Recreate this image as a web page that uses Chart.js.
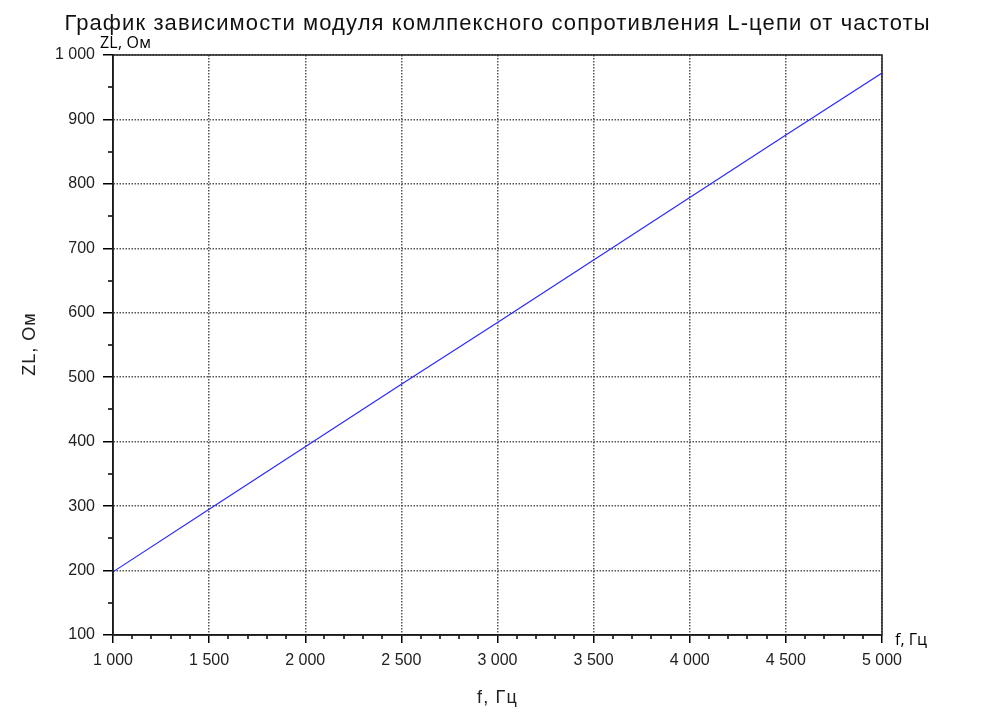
<!DOCTYPE html>
<html>
<head>
<meta charset="utf-8">
<script src="https://cdn.jsdelivr.net/npm/chart.js@4.4.1/dist/chart.umd.min.js"></script>
<style>
html,body{margin:0;padding:0;background:#fff;}
#wrap{width:981px;height:715px;position:relative;}
</style>
</head>
<body>
<div id="wrap"><canvas id="c" width="981" height="715"></canvas></div>
<script>
// ---- data ----
const titleText = 'График зависимости модуля комлпексного сопротивления L-цепи от частоты';
const xAxisTitle = 'f, Гц';
const yAxisTitle = 'ZL, Ом';
const freqs = [1000, 1500, 2000, 2500, 3000, 3500, 4000, 4500, 5000];
const zl    = [198, 295, 392, 489, 585, 682, 779, 876, 972];
const xRange = [1000, 5000];
const xStep = 500;
const xMinorStep = 100;
const yRange = [100, 1000];
const yStep = 100;
const yMinorStep = 50;

function fmt(v){
  const s = String(Math.round(v));
  return s.replace(/\B(?=(\d{3})+(?!\d))/g, ' ');
}

const AREA = {left:113, top:55, right:882, bottom:635};
const ARIAL = '"Liberation Sans", Arial, sans-serif';

const extras = {
  id: 'extras',
  afterDraw(chart){
    const ctx = chart.ctx;
    const ca = chart.chartArea;
    const xs = chart.scales.x, ys = chart.scales.y;
    ctx.save();
    // minor ticks
    ctx.strokeStyle = '#000';
    ctx.lineWidth = 1.5;
    ctx.beginPath();
    for (let v = xRange[0]; v <= xRange[1]; v += xMinorStep){
      if (v % xStep === 0) continue;
      const px = Math.round(xs.getPixelForValue(v));
      ctx.moveTo(px, ca.bottom);
      ctx.lineTo(px, ca.bottom + 4);
    }
    for (let v = yRange[0]; v <= yRange[1]; v += yMinorStep){
      if (v % yStep === 0) continue;
      const py = Math.round(ys.getPixelForValue(v));
      ctx.moveTo(ca.left, py);
      ctx.lineTo(ca.left - 5, py);
    }
    ctx.stroke();
    // frame
    ctx.lineWidth = 1.5;
    ctx.strokeStyle = '#222';
    ctx.strokeRect(ca.left, ca.top, ca.right - ca.left, ca.bottom - ca.top);
    // title
    ctx.fillStyle = '#111';
    ctx.textBaseline = 'alphabetic';
    ctx.font = '22px ' + ARIAL;
    ctx.letterSpacing = '1.1px';
    ctx.textAlign = 'center';
    ctx.fillText(titleText, (ca.left + ca.right) / 2, 30);
    // bottom axis title
    ctx.font = '18px ' + ARIAL;
    ctx.letterSpacing = '1.2px';
    ctx.fillStyle = '#222';
    ctx.fillText(xAxisTitle, (ca.left + ca.right) / 2, 703);
    // left axis title (rotated)
    ctx.save();
    ctx.translate(35, (ca.top + ca.bottom) / 2 - 1);
    ctx.rotate(-Math.PI / 2);
    ctx.letterSpacing = '1px';
    ctx.fillText(yAxisTitle, 0, 0);
    ctx.restore();
    // axis end labels
    ctx.font = '16px "Open Sans", sans-serif';
    ctx.textAlign = 'left';
    ctx.fillStyle = '#000';
    ctx.letterSpacing = '0.2px';
    ctx.fillText(yAxisTitle, ca.left - 13, 47.5);
    ctx.letterSpacing = '0px';
    ctx.fillText(xAxisTitle, ca.right + 13, 645);
    ctx.restore();
  }
};

new Chart(document.getElementById('c'), {
  type: 'line',
  data: {
    datasets: [{
      data: freqs.map((f, i) => ({x: f, y: zl[i]})),
      borderColor: '#2a2aff',
      borderWidth: 1.2,
      pointRadius: 0,
      fill: false,
      tension: 0
    }]
  },
  options: {
    responsive: false,
    animation: false,
    events: [],
    layout: {padding: {top: AREA.top, right: 981 - AREA.right, left: 0, bottom: 0}},
    plugins: {legend: {display: false}, title: {display: false}, tooltip: {enabled: false}},
    scales: {
      x: {
        type: 'linear',
        min: xRange[0], max: xRange[1],
        afterFit(s){ s.height = 715 - AREA.bottom; },
        ticks: {stepSize: xStep, callback: fmt, color: '#222', padding: 8, maxRotation: 0,
                font: {family: ARIAL, size: 16}},
        grid: {color: '#555', lineWidth: 1.5, tickLength: 8, tickColor: '#000', tickWidth: 1.5},
        border: {display: true, color: '#000', width: 1.5, dash: [1.5, 1.5]},
        title: {display: false}
      },
      y: {
        type: 'linear',
        min: yRange[0], max: yRange[1],
        afterFit(s){ s.width = AREA.left; },
        ticks: {stepSize: yStep, callback: fmt, color: '#222', padding: 8,
                font: {family: ARIAL, size: 16}},
        grid: {color: '#555', lineWidth: 1.5, tickLength: 10, tickColor: '#000', tickWidth: 1.5},
        border: {display: true, color: '#000', width: 1.5, dash: [1.5, 1.5]},
        title: {display: false}
      }
    }
  },
  plugins: [extras]
});
</script>
</body>
</html>
